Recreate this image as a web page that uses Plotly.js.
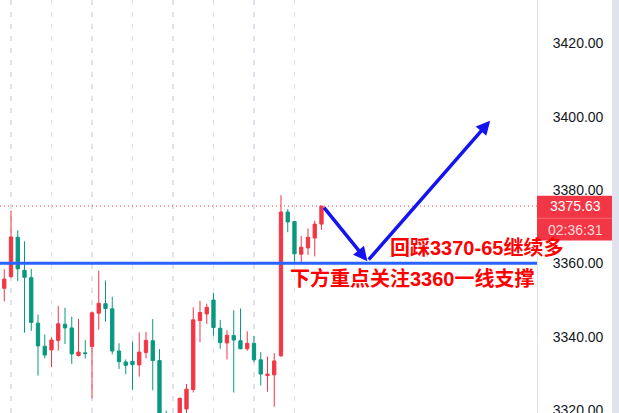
<!DOCTYPE html>
<html>
<head>
<meta charset="utf-8">
<script src="https://cdn.plot.ly/plotly-3.0.1.min.js"></script>
<style>html,body{margin:0;padding:0;background:#fff;}#chart{width:619px;height:413px;}</style>
</head>
<body>
<div id="chart"></div>
<script>
// candle data (index-based bars)
const candleIndex = [0,1,2,3,4,5,6,7,8,9,10,11,12,13,14,15,16,17,18,19,20,21,22,23,24,25,26,27,28,29,30,31,32,33,34,35,36,37,38,39,40,41,42,43,44,45,46,47];
const openPrices  = [3353.2,3356.4,3367.1,3358.1,3356.1,3343.7,3337.4,3336.4,3339.0,3343.4,3342.4,3334.9,3335.6,3337.3,3346.4,3349.0,3347.6,3336.1,3333.1,3333.3,3332.3,3335.7,3338.9,3333.5,3318.6,3312.0,3316.0,3320.3,3325.6,3344.4,3346.2,3350.0,3342.3,3338.3,3340.3,3338.9,3336.7,3338.2,3333.7,3329.4,3329.6,3334.8,3374.0,3371.4,3362.5,3364.2,3366.9,3370.7];
const highPrices  = [3358.4,3374.4,3369.0,3366.0,3358.5,3346.0,3340.6,3339.8,3348.4,3347.9,3345.5,3344.8,3339.1,3346.9,3358.0,3355.3,3350.9,3338.2,3333.8,3338.7,3341.2,3341.3,3344.8,3336.6,3319.8,3318.0,3323.4,3327.1,3348.0,3349.8,3349.0,3351.9,3344.6,3341.8,3347.2,3347.7,3341.5,3340.2,3335.8,3334.6,3335.5,3378.6,3374.8,3371.5,3367.5,3369.5,3371.6,3375.63];
const lowPrices   = [3349.6,3356.0,3355.2,3341.1,3341.6,3329.4,3334.1,3331.7,3336.2,3338.0,3332.6,3334.6,3334.1,3323.2,3341.9,3344.1,3335.2,3331.2,3329.8,3325.5,3329.1,3334.1,3325.4,3314.0,3312.0,3310.0,3314.5,3318.0,3324.8,3338.5,3343.5,3340.3,3336.7,3333.8,3324.8,3336.6,3336.2,3333.1,3326.7,3325.0,3320.9,3334.5,3368.5,3360.3,3360.1,3362.3,3361.9,3369.2];
const closePrices = [3355.7,3367.2,3358.5,3356.2,3343.9,3337.5,3335.0,3339.1,3343.5,3342.4,3335.3,3335.8,3335.4,3346.5,3349.1,3347.7,3336.1,3333.2,3332.2,3332.4,3335.8,3339.0,3333.5,3317.0,3315.0,3316.0,3323.2,3325.7,3344.6,3346.6,3348.0,3342.5,3338.4,3340.4,3339.1,3336.7,3338.2,3333.7,3329.8,3329.8,3333.4,3374.0,3371.3,3362.6,3364.4,3367.1,3370.7,3375.63];

const yTickVals = [3320,3340,3360,3380,3400,3420];
const gridBars = [1,7,13,19,25,31,37,43];
const supportLevel = 3360;
const lastPrice = closePrices[closePrices.length-1];
const countdownText = "02:36:31";
// hand-drawn arrow path (bar index, price)
const arrowPathX = [47.2, 53.8, 72.0];
const arrowPathY = [3375.6, 3360.6, 3398.9];
const noteTexts = ["回踩3370-65继续多", "下方重点关注3360一线支撑"];
const noteX = [56.9, 42.0];
const noteY = [3364.4, 3355.9];

const RED = '#F23645', GREEN = '#089981';

const trace = {
  type: 'candlestick',
  x: candleIndex, open: openPrices, high: highPrices, low: lowPrices, close: closePrices,
  increasing: {line: {color: RED, width: 1}, fillcolor: RED},
  decreasing: {line: {color: GREEN, width: 1}, fillcolor: GREEN},
  whiskerwidth: 0,
  hoverinfo: 'skip',
  showlegend: false
};

const plotRightPx = 537;
const px = v => v / plotRightPx;

const layout = {
  width: 619, height: 413,
  margin: {l: 0, r: 82, t: 0, b: 0, pad: 0},
  paper_bgcolor: '#ffffff', plot_bgcolor: '#ffffff',
  showlegend: false,
  xaxis: {
    range: [-0.63, 78.93], rangeslider: {visible: false},
    tickvals: gridBars, showticklabels: false, ticks: '',
    showgrid: true, gridcolor: '#e0e3eb', gridwidth: 1.2, griddash: '5px,7px',
    zeroline: false, showline: false, fixedrange: true
  },
  yaxis: {
    side: 'right', range: [3319.2, 3431.8],
    tickvals: yTickVals, tickformat: '.2f', ticks: '', ticklabelstandoff: 12,
    ticklabeloverflow: 'allow',
    tickfont: {family: 'Liberation Sans, Arial, sans-serif', size: 14, color: '#131722'},
    showgrid: false, zeroline: false,
    showline: true, linecolor: '#e0e3eb', linewidth: 1, fixedrange: true
  },
  shapes: [
    {type: 'line', xref: 'paper', yref: 'y', x0: 0, x1: 1, y0: lastPrice, y1: lastPrice,
     line: {color: RED, width: 1, dash: '1px,3px'}},
    {type: 'line', xref: 'paper', yref: 'y', x0: 0, x1: 1, y0: supportLevel, y1: supportLevel,
     line: {color: '#2962FF', width: 3}},
    {type: 'rect', xref: 'paper', yref: 'y', x0: 1, x1: px(614), y0: 3366.2, y1: 3378.4,
     fillcolor: RED, line: {width: 0}, layer: 'above'},
    {type: 'line', xref: 'paper', yref: 'y', x0: 1, x1: px(614), y0: 3372.3, y1: 3372.3,
     line: {color: 'rgba(255,255,255,0.25)', width: 1}, layer: 'above'},
    {type: 'rect', xref: 'paper', yref: 'paper', x0: px(612), x1: px(619), y0: 0, y1: 1,
     fillcolor: '#e0e3eb', line: {width: 0}, layer: 'above'}
  ],
  annotations: [
    {xref: 'x', yref: 'y', axref: 'x', ayref: 'y',
     x: arrowPathX[1], y: arrowPathY[1], ax: arrowPathX[0], ay: arrowPathY[0],
     showarrow: true, arrowhead: 2, arrowsize: 0.8, arrowwidth: 3.5, arrowcolor: '#1414F0', text: ''},
    {xref: 'x', yref: 'y', axref: 'x', ayref: 'y',
     x: arrowPathX[2], y: arrowPathY[2], ax: arrowPathX[1], ay: arrowPathY[1],
     showarrow: true, arrowhead: 2, arrowsize: 0.8, arrowwidth: 3.5, arrowcolor: '#1414F0', text: ''},
    {xref: 'x', yref: 'y', x: noteX[0], y: noteY[0], xanchor: 'left', yanchor: 'middle', showarrow: false,
     text: '<b>' + noteTexts[0] + '</b>',
     font: {family: 'Liberation Sans, Noto Sans CJK SC, sans-serif', size: 20, color: '#FF0000'}},
    {xref: 'x', yref: 'y', x: noteX[1], y: noteY[1], xanchor: 'left', yanchor: 'middle', showarrow: false,
     text: '<b>' + noteTexts[1] + '</b>',
     font: {family: 'Liberation Sans, Noto Sans CJK SC, sans-serif', size: 20, color: '#FF0000'}},
    {xref: 'paper', yref: 'y', x: px(575.5), y: lastPrice, xanchor: 'center', yanchor: 'middle', showarrow: false,
     text: lastPrice.toFixed(2),
     font: {family: 'Liberation Sans, Arial, sans-serif', size: 14, color: '#ffffff'}},
    {xref: 'paper', yref: 'y', x: px(575.5), y: 3369.2, xanchor: 'center', yanchor: 'middle', showarrow: false,
     text: countdownText,
     font: {family: 'Liberation Sans, Arial, sans-serif', size: 14, color: 'rgba(255,255,255,0.8)'}}
  ]
};

Plotly.newPlot('chart', [trace], layout, {displayModeBar: false, staticPlot: true});
</script>
</body>
</html>
